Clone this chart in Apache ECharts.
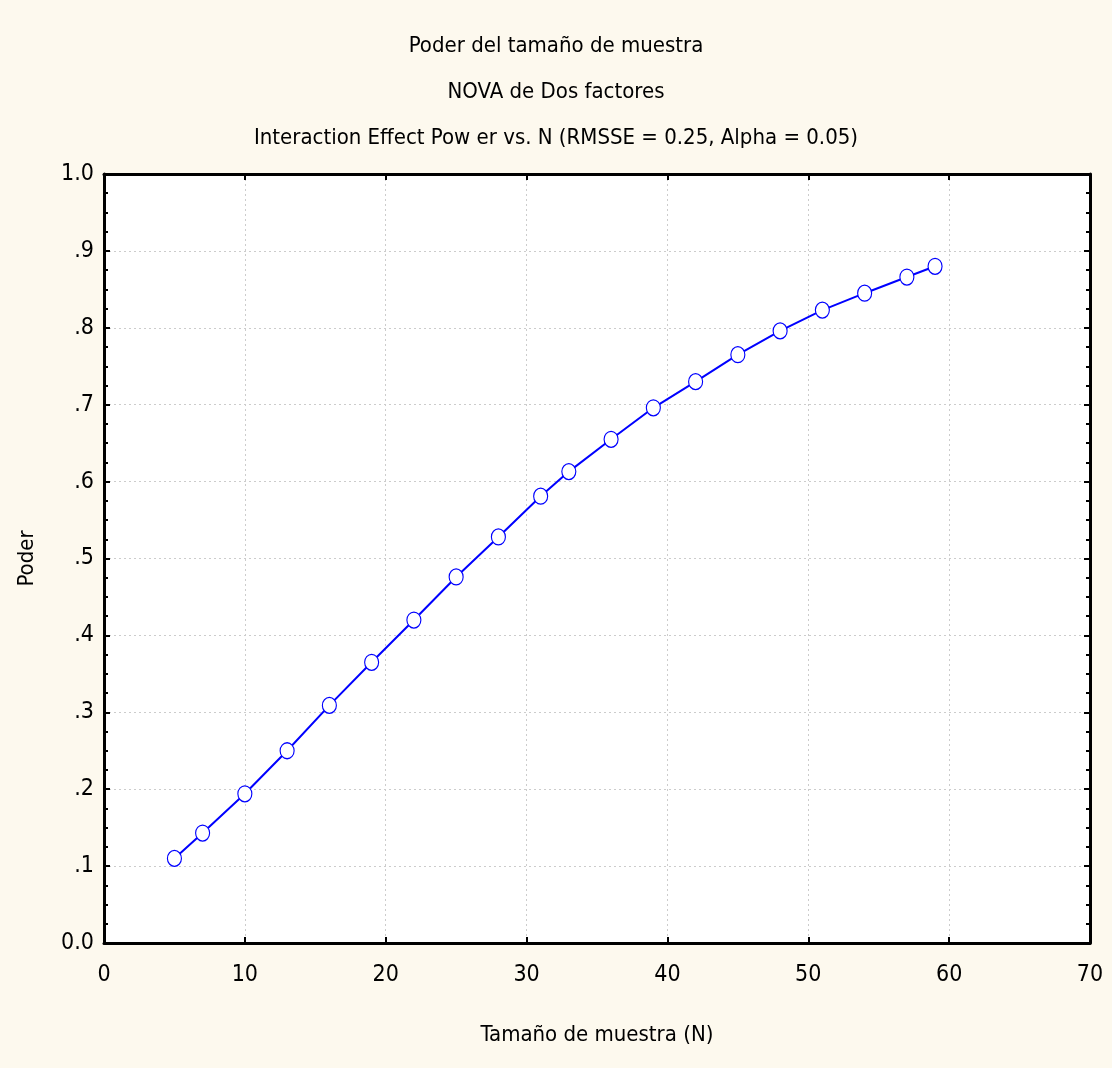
<!DOCTYPE html>
<html><head><meta charset="utf-8">
<script src="https://cdn.jsdelivr.net/npm/echarts@6/dist/echarts.min.js"></script>
<style>html,body{margin:0;padding:0;background:#fdf9ee;}#c{width:1112px;height:1068px;}</style>
</head><body><div id="c"></div>
<script>
const titles = ["Poder del tamaño de muestra", "NOVA de Dos factores", "Interaction Effect Pow er vs. N (RMSSE = 0.25, Alpha = 0.05)"];
const sampleN = [5, 7, 10, 13, 16, 19, 22, 25, 28, 31, 33, 36, 39, 42, 45, 48, 51, 54, 57, 59];
const power = [0.110, 0.143, 0.194, 0.250, 0.309, 0.365, 0.420, 0.476, 0.528, 0.581, 0.613, 0.655, 0.696, 0.730, 0.765, 0.796, 0.823, 0.845, 0.866, 0.880];
const xName = "Tamaño de muestra (N)";
const yName = "Poder";

const font = "'Liberation Sans Narrow', 'Arial Narrow', 'DejaVu Sans Condensed', 'Liberation Sans', sans-serif";
const chart = echarts.init(document.getElementById('c'));
const G = {left: 104, top: 174, width: 986, height: 769};
const yFmt = v => { if (Math.abs(v) < 1e-9) return "0.0"; if (Math.abs(v - 1) < 1e-9) return "1.0"; return "." + Math.round(v * 10); };
const tick = {show: true, inside: true, length: 6, lineStyle: {color: '#000', width: 2}};
const minor = {show: true, splitNumber: 4, length: 4, lineStyle: {color: '#000', width: 2}};
const border = {show: true, onZero: false, lineStyle: {color: '#000', width: 3}};
chart.setOption({
  backgroundColor: '#fdf9ee',
  animation: false,
  title: titles.map((t, i) => ({
    text: t, left: 'center', top: 30 + i * 46,
    textStyle: {fontFamily: font, fontSize: 22, fontWeight: 'normal', color: '#000'}
  })),
  grid: {left: G.left, top: G.top, width: G.width, height: G.height, show: true, backgroundColor: '#ffffff', borderWidth: 0},
  xAxis: [{
    type: 'value', min: 0, max: 70, interval: 10, position: 'bottom',
    name: xName, nameLocation: 'middle', nameGap: 81,
    nameTextStyle: {fontFamily: font, fontSize: 22, color: '#000'},
    axisLine: border, axisTick: tick,
    axisLabel: {fontFamily: font, fontSize: 23, color: '#000', margin: 21},
    splitLine: {show: true, lineStyle: {color: '#cccccc', type: [2, 3], width: 1}}
  }, {
    type: 'value', min: 0, max: 70, interval: 10, position: 'top',
    axisLine: border, axisTick: tick,
    axisLabel: {show: false}, splitLine: {show: false}
  }],
  yAxis: [{
    type: 'value', min: 0, max: 1, interval: 0.1, position: 'left',
    name: yName, nameLocation: 'middle', nameGap: 66, nameRotate: 90,
    nameTextStyle: {fontFamily: font, fontSize: 22, color: '#000'},
    axisLine: border, axisTick: tick, minorTick: minor,
    axisLabel: {fontFamily: font, fontSize: 23, color: '#000', margin: 10, formatter: yFmt},
    splitLine: {show: true, lineStyle: {color: '#cccccc', type: [2, 3], width: 1}}
  }, {
    type: 'value', min: 0, max: 1, interval: 0.1, position: 'right',
    axisLine: border, axisTick: tick, minorTick: minor,
    axisLabel: {show: false}, splitLine: {show: false}
  }],
  series: [{
    type: 'line', xAxisIndex: 0, yAxisIndex: 0,
    data: sampleN.map((n, i) => [n, power[i]]),
    lineStyle: {color: '#0000ff', width: 2},
    symbol: 'circle', symbolSize: [14, 16], showSymbol: true,
    itemStyle: {color: '#ffffff', borderColor: '#0000ff', borderWidth: 1.2},
    z: 5
  }]
});
</script></body></html>
